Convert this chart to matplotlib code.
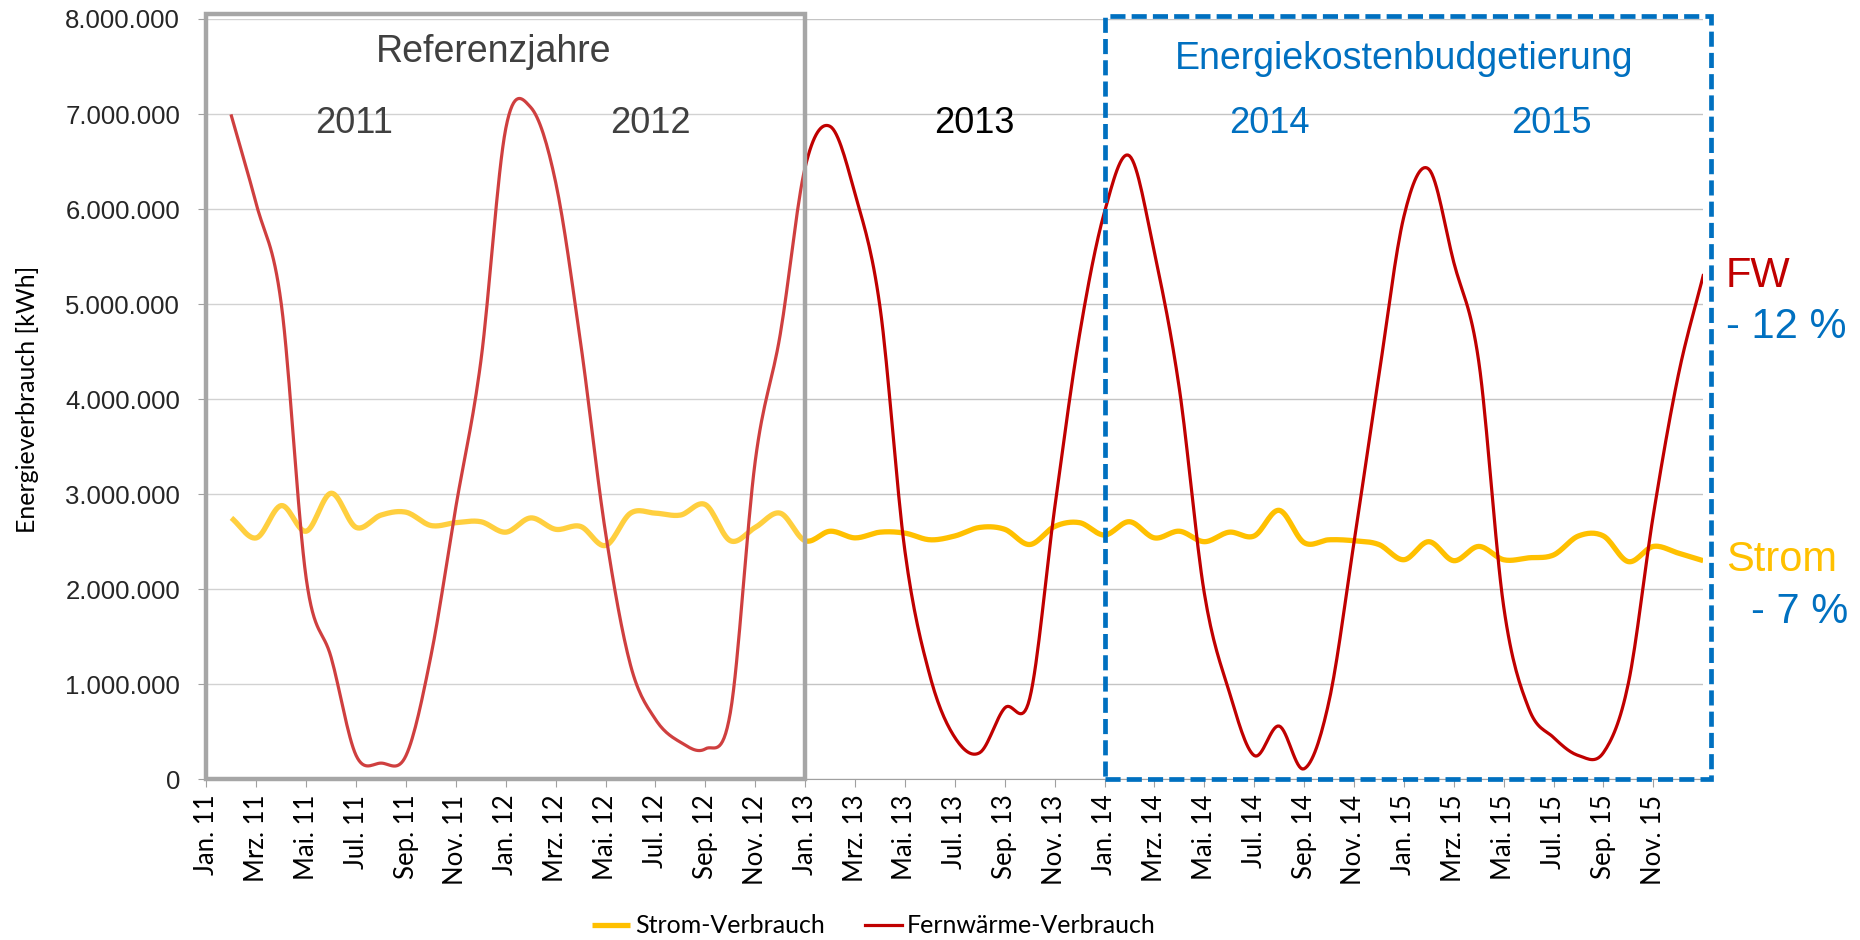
import matplotlib
matplotlib.use('Agg')
import matplotlib.pyplot as plt
import numpy as np
from matplotlib.patches import Rectangle
from matplotlib.ticker import FuncFormatter

# monthly consumption, Jan 2011 .. Dec 2015, in Mio. kWh
strom = [2.75, 2.54, 2.88, 2.61, 3.01, 2.65, 2.78, 2.81, 2.67, 2.70, 2.71, 2.60,
         2.75, 2.63, 2.66, 2.46, 2.80, 2.80, 2.78, 2.89, 2.51, 2.65, 2.80, 2.51,
         2.61, 2.54, 2.60, 2.59, 2.52, 2.56, 2.65, 2.63, 2.47, 2.66, 2.70, 2.57,
         2.71, 2.54, 2.61, 2.50, 2.60, 2.56, 2.83, 2.49, 2.52, 2.51, 2.47, 2.31,
         2.50, 2.30, 2.45, 2.31, 2.33, 2.36, 2.56, 2.56, 2.29, 2.45, 2.38, 2.30]
fernwaerme = [6.98, 6.05, 5.00, 2.11, 1.28, 0.25, 0.17, 0.25, 1.30, 2.87, 4.40, 6.85,
              7.07, 6.28, 4.59, 2.59, 1.20, 0.63, 0.39, 0.32, 0.70, 3.35, 4.68, 6.44,
              6.87, 6.16, 4.97, 2.40, 1.09, 0.44, 0.28, 0.75, 0.85, 2.85, 4.68, 5.97,
              6.56, 5.54, 4.11, 1.96, 0.92, 0.25, 0.56, 0.11, 0.82, 2.49, 4.25, 5.92,
              6.42, 5.44, 4.40, 1.82, 0.75, 0.44, 0.25, 0.28, 1.01, 2.78, 4.25, 5.30]
months = ['Jan.', 'Mrz.', 'Mai.', 'Jul.', 'Sep.', 'Nov.']
years = ['11', '12', '13', '14', '15']
tick_labels = [f'{m} {y}' for y in years for m in months]

RED = '#C00000'
YELLOW = '#FFC000'
BLUE = '#0070C0'
ARIAL = 'Liberation Sans'
CALIBRI = 'Lato'


def smooth(x, y, n=16):
    '''Excel-like smoothed line (cardinal spline through the points)'''
    x = np.asarray(x, float)
    y = np.asarray(y, float)
    m = np.empty_like(y)
    m[1:-1] = (y[2:] - y[:-2]) / 2
    m[0] = y[1] - y[0]
    m[-1] = y[-1] - y[-2]
    t = np.linspace(0, 1, n, endpoint=False)
    xs, ys = [], []
    for i in range(len(y) - 1):
        h00 = 2 * t**3 - 3 * t**2 + 1
        h10 = t**3 - 2 * t**2 + t
        h01 = -2 * t**3 + 3 * t**2
        h11 = t**3 - t**2
        xs.append(x[i] + t * (x[i + 1] - x[i]))
        ys.append(h00 * y[i] + h10 * m[i] + h01 * y[i + 1] + h11 * m[i + 1])
    xs.append([x[-1]])
    ys.append([y[-1]])
    return np.concatenate(xs), np.concatenate(ys)


x = np.arange(1, len(strom) + 1)
scale = 1e6

fig = plt.figure(figsize=(18.6, 9.4), dpi=100)
ax = fig.add_axes([0.111, 0.171, 0.8047, 0.8088])

sx, sy = smooth(x, np.array(strom) * scale)
fx, fy = smooth(x, np.array(fernwaerme) * scale)
l1, = ax.plot(sx, sy, color=YELLOW, lw=3.8, solid_capstyle='butt', zorder=3,
              label='Strom-Verbrauch')
l2, = ax.plot(fx, fy, color=RED, lw=2.3, zorder=4, label='Fernwärme-Verbrauch')

ax.set_xlim(0, 60)
ax.set_ylim(0, 8e6)
ax.set_yticks(np.arange(0, 8.5e6, 1e6))
ax.yaxis.set_major_formatter(FuncFormatter(lambda v, p: f'{v:,.0f}'.replace(',', '.')))
ax.set_xticks(np.arange(0, 60, 2))
ax.set_xticklabels(tick_labels, rotation=90, fontsize=18.5, family=CALIBRI)
for lab in ax.get_yticklabels():
    lab.set_fontsize(18.5)
    lab.set_family(ARIAL)
    lab.set_color('#262626')
ax.tick_params(axis='x', length=6, color='#A0A0A0', pad=5)
ax.tick_params(axis='y', length=6, color='#A0A0A0', pad=13)
ax.grid(axis='y', color='#C4C4C4', lw=1)
ax.set_axisbelow(True)
for s in ['top', 'right']:
    ax.spines[s].set_visible(False)
for s in ['left', 'bottom']:
    ax.spines[s].set_color('#A0A0A0')
ax.set_ylabel('Energieverbrauch [kWh]', fontsize=18, family=CALIBRI)
ax.yaxis.set_label_coords(-0.112, 0.5)

# reference years box (slightly washes out the lines inside)
ax.add_patch(Rectangle((0, 0), 24, 8.05e6, facecolor=(1, 1, 1, 0.25),
                       edgecolor='none', zorder=5, clip_on=False))
ax.add_patch(Rectangle((0, 0), 24, 8.05e6, fill=False, edgecolor='#A6A6A6',
                       lw=3.2, zorder=6, clip_on=False))
# budgeting box
ax.add_patch(Rectangle((36, 0), 24.3, 8.03e6, fill=False, edgecolor=BLUE,
                       lw=3.4, ls=(0, (3.2, 1.3)), zorder=6, clip_on=False))

ax.text(11.5, 7.65e6, 'Referenzjahre', ha='center', va='center', fontsize=27,
        family=ARIAL, color='#404040', zorder=7)
ax.text(48, 7.58e6, 'Energiekostenbudgetierung', ha='center', va='center',
        fontsize=27, family=ARIAL, color=BLUE, zorder=7)
for xp, yr, c in [(5.9, '2011', '#404040'), (17.8, '2012', '#404040'),
                  (30.8, '2013', 'black'), (42.6, '2014', BLUE), (53.9, '2015', BLUE)]:
    ax.text(xp, 6.9e6, yr, ha='center', va='center', fontsize=26, family=ARIAL,
            color=c, zorder=7)

ax.text(60.9, 5.3e6, 'FW', ha='left', va='center', fontsize=30, family=ARIAL,
        color=RED, clip_on=False)
ax.text(60.9, 4.76e6, '- 12 %', ha='left', va='center', fontsize=30, family=ARIAL,
        color=BLUE, clip_on=False)
ax.text(60.9, 2.31e6, 'Strom', ha='left', va='center', fontsize=30, family=ARIAL,
        color=YELLOW, clip_on=False)
ax.text(61.9, 1.76e6, '- 7 %', ha='left', va='center', fontsize=30, family=ARIAL,
        color=BLUE, clip_on=False)

fig.legend(handles=[l1, l2], loc='center', bbox_to_anchor=(0.47, 0.015), ncol=2,
           frameon=False, prop={'family': CALIBRI, 'size': 18}, handlelength=1.5,
           handletextpad=0.2, columnspacing=1.6)

fig.savefig('out.png', dpi=100)
